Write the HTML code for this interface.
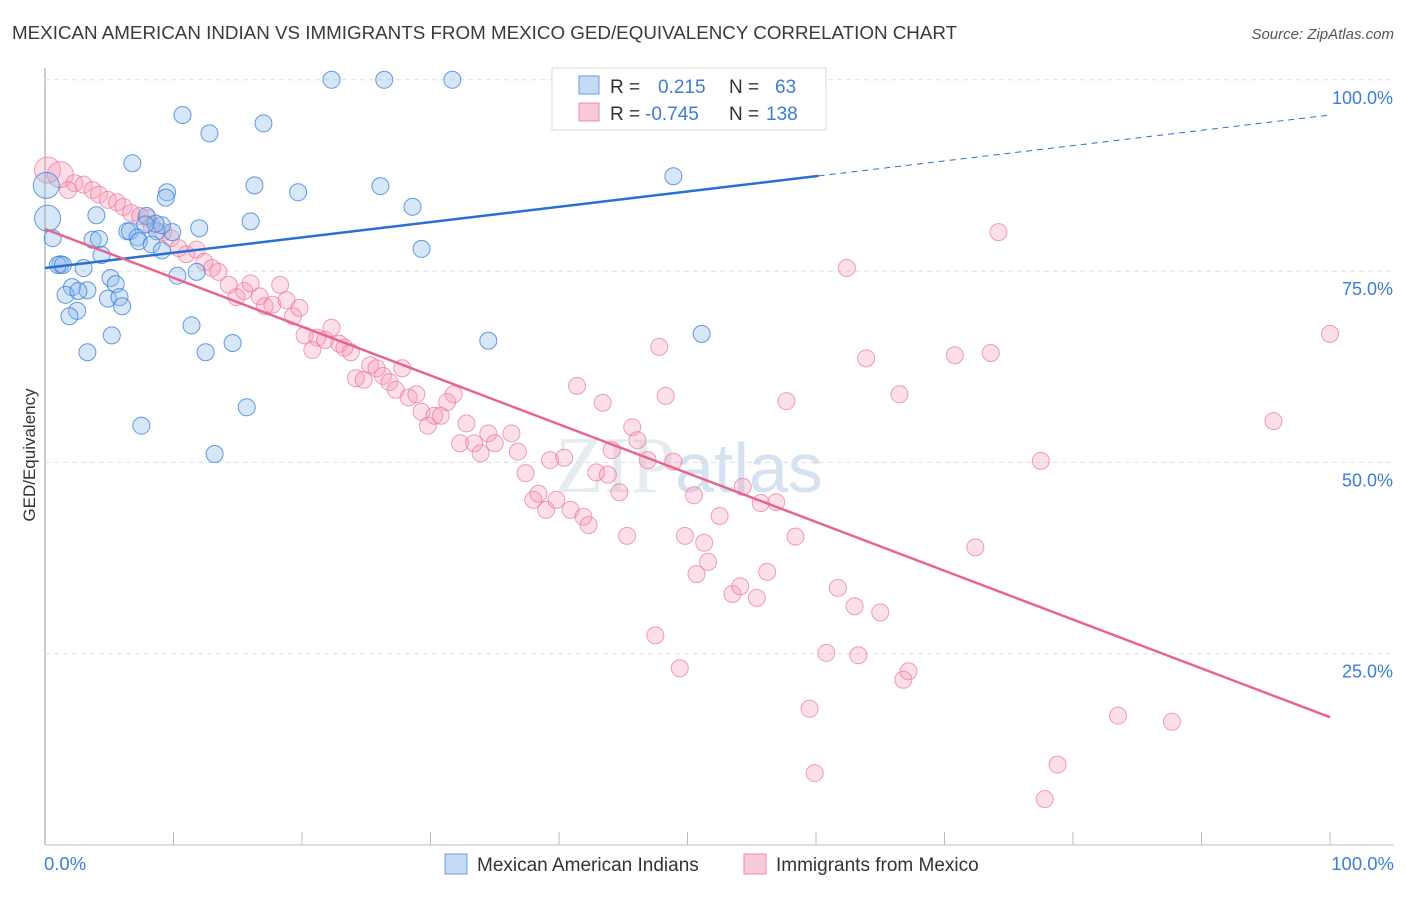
<!DOCTYPE html>
<html><head><meta charset="utf-8"><style>
body{margin:0;background:#fff;font-family:"Liberation Sans",sans-serif;}
</style></head><body>
<svg id="chart" width="1406" height="892" viewBox="0 0 1406 892" xmlns="http://www.w3.org/2000/svg" font-family="Liberation Sans, sans-serif">
<text x="12" y="39" font-size="18.8" fill="#3a3a3a">MEXICAN AMERICAN INDIAN VS IMMIGRANTS FROM MEXICO GED/EQUIVALENCY CORRELATION CHART</text>
<text x="1394" y="39" font-size="15" font-style="italic" fill="#555" text-anchor="end">Source: ZipAtlas.com</text>
<text x="35" y="455" font-size="17" fill="#333" text-anchor="middle" transform="rotate(-90 35 455)">GED/Equivalency</text>
<text x="555" y="492" font-size="80" fill="#e6ebf1" font-family="Liberation Serif, serif">ZIP<tspan fill="#d5e2f2" font-family="Liberation Sans, sans-serif" font-size="70">atlas</tspan></text>
<g id="grid"></g><g id="pinkpts"></g><g id="bluepts"></g><g id="lines"></g>
<g>
<rect x="552" y="68" width="274" height="62" fill="#fff" stroke="#d8d8d8"/>
<rect x="579" y="76" width="20" height="18" fill="#c5dbf5" stroke="#6a9ee0"/>
<rect x="579" y="103" width="20" height="18" fill="#f9c9d7" stroke="#ea8fab"/>
<text x="610" y="93" font-size="19" fill="#333">R = <tspan fill="#3b7dd8" x="658">0.215</tspan><tspan fill="#333" x="729">N =</tspan><tspan fill="#3b7dd8" x="775">63</tspan></text>
<text x="610" y="120" font-size="19" fill="#333">R = <tspan fill="#3b7dd8" x="645">-0.745</tspan><tspan fill="#333" x="729">N =</tspan><tspan fill="#3b7dd8" x="766">138</tspan></text>
</g>
<g>
<rect x="445" y="854" width="22" height="20" fill="#c5dbf5" stroke="#6a9ee0"/>
<text x="477" y="871" font-size="19" fill="#333">Mexican American Indians</text>
<rect x="744" y="854" width="22" height="20" fill="#f9c9d7" stroke="#ea8fab"/>
<text x="776" y="871" font-size="19" fill="#333">Immigrants from Mexico</text>
</g>
<text x="44" y="870" font-size="18.5" fill="#3b7dd8">0.0%</text>
<text x="1394" y="870" font-size="18.5" fill="#3b7dd8" text-anchor="end">100.0%</text>
</svg>
<script>
const yTicks=[100,75,50,25];
const yTickLabels=["100.0%","75.0%","50.0%","25.0%"];
const blueX=[22.3,26.4,31.7,10.7,17.0,12.8,6.8,48.9,16.3,26.1,9.5,19.7,9.4,28.6,0.1,0.2,4.0,7.9,16.0,12.0,6.4,6.6,8.7,9.9,0.6,3.7,4.2,7.2,7.3,8.3,29.3,9.1,4.4,1.2,1.0,1.4,3.0,5.1,10.3,11.8,5.5,2.1,3.3,1.6,2.6,4.9,5.8,6.0,2.5,1.9,11.4,5.2,34.5,14.6,12.5,3.3,51.1,15.7,7.5,13.2,9.1,8.6,7.8];
const blueY=[100,100,100,95.4,94.3,93.0,89.1,87.4,86.2,86.1,85.3,85.3,84.6,83.4,86.2,81.9,82.3,82.2,81.5,80.6,80.2,80.2,80.2,80.1,79.3,79.1,79.2,79.4,78.9,78.5,77.9,77.7,77.1,75.9,75.8,75.8,75.4,74.1,74.4,74.9,73.3,72.9,72.5,71.9,72.4,71.4,71.6,70.4,69.8,69.1,67.9,66.6,65.9,65.6,64.4,64.4,66.8,57.2,54.8,51.1,81.0,81.2,81.1];
const pinkX=[0.2,1.2,2.3,1.8,3.0,3.7,4.2,4.9,5.6,6.1,6.7,7.4,8.0,8.3,9.2,9.8,10.4,11.0,11.8,12.4,13.0,13.5,14.3,14.9,15.5,16.0,16.7,17.1,17.7,18.3,18.8,19.3,19.8,20.2,20.8,21.2,21.8,22.3,22.9,23.3,23.8,24.2,24.8,25.3,25.8,26.3,26.8,27.3,27.8,28.3,28.9,29.3,29.8,30.3,30.8,31.3,31.8,32.3,32.8,33.4,33.9,34.5,35.0,36.3,36.8,37.4,38.0,38.4,39.0,39.3,39.8,40.4,40.9,41.4,41.9,42.3,42.9,43.4,43.8,44.1,44.7,45.3,45.7,46.1,46.9,47.5,47.8,48.3,48.9,49.4,49.8,50.5,50.7,51.3,51.6,52.5,53.5,54.1,54.3,55.4,55.7,56.2,56.9,57.7,58.4,59.5,59.9,60.8,61.7,62.4,63.0,63.3,63.9,65.0,66.5,66.8,67.2,70.8,72.4,73.6,74.2,77.5,77.8,78.8,83.5,87.7,95.6,100,56.9];
const pinkY=[88.2,87.6,86.5,85.6,86.3,85.6,85.0,84.3,84.0,83.4,82.6,82.2,81.9,81.0,80.1,79.3,78.0,77.2,77.8,76.2,75.4,74.9,73.2,71.6,72.4,73.4,71.7,70.4,70.6,73.2,71.2,69.1,70.2,66.6,64.7,66.3,66.0,67.6,65.5,65.0,64.4,61.0,60.8,62.7,62.3,61.3,60.5,59.5,62.3,58.5,58.9,56.6,54.8,56.1,56.1,57.9,58.9,52.5,55.1,52.5,51.2,53.8,52.5,53.8,51.4,48.6,45.1,45.9,43.8,50.3,45.1,50.6,43.8,60.0,42.9,41.8,48.7,57.8,48.4,51.6,46.1,40.4,54.6,52.9,50.3,27.4,65.1,58.7,50.1,23.1,40.4,45.7,35.4,39.5,37.0,43.0,32.8,33.8,46.8,32.3,44.7,35.7,44.8,58.0,40.3,17.8,9.4,25.1,33.6,75.4,31.2,24.8,63.6,30.4,58.9,21.6,22.7,64.0,38.9,64.3,80.1,50.2,6.0,10.5,16.9,16.1,55.4,66.8,99.8];
const blueTrend=[75.4,95.4]; const blueSolidEnd=60.2;
const pinkTrend=[80.5,16.7];
const NS="http://www.w3.org/2000/svg";
function X(v){return 45+v*12.85;}
function Y(v){return 845-v*7.652;}
function mk(tag,attrs,parent){const e=document.createElementNS(NS,tag);for(const k in attrs)e.setAttribute(k,attrs[k]);parent.appendChild(e);return e;}
const grid=document.getElementById('grid');
const ax=mk('line',{x1:45,y1:68,x2:45,y2:845,stroke:'#999','stroke-width':1},grid);


const bx=mk('line',{x1:45,y1:845,x2:1394,y2:845,stroke:'#bbb','stroke-width':1},grid);


for(let i=1;i<=10;i++){const t=mk('line',{x1:45+i*128.5,y1:832,x2:45+i*128.5,y2:845,stroke:'#bbb'},grid);

}
yTicks.forEach((v,i)=>{const g=mk('line',{x1:45,y1:Y(v),x2:1394,y2:Y(v),stroke:'#ddd','stroke-dasharray':'5,4'},grid);


const t=mk('text',{x:1393,y:Y(v)+24,'font-size':18,fill:'#3b7dd8','text-anchor':'end'},grid);t.textContent=yTickLabels[i];

});
const pg=document.getElementById('pinkpts');
pinkX.forEach((x,i)=>{const r=(x<1.5&&pinkY[i]>87)?13:8.5;const c=mk('circle',{cx:X(x),cy:Y(pinkY[i]),r:r,fill:'rgba(244,150,180,0.3)',stroke:'rgba(234,120,155,0.7)','stroke-width':1},pg);

});
const bg=document.getElementById('bluepts');
blueX.forEach((x,i)=>{const r=(x<0.3)?13:8.5;const c=mk('circle',{cx:X(x),cy:Y(blueY[i]),r:r,fill:'rgba(140,185,235,0.35)',stroke:'rgba(60,130,220,0.8)','stroke-width':1},bg);

});
const lg=document.getElementById('lines');
const bm=blueTrend[0]+(blueTrend[1]-blueTrend[0])*blueSolidEnd/100;
const l1=mk('line',{x1:X(0),y1:Y(blueTrend[0]),x2:X(blueSolidEnd),y2:Y(bm),stroke:'#2a6fd6','stroke-width':2.5},lg);


const l2=mk('line',{x1:X(blueSolidEnd),y1:Y(bm),x2:X(100),y2:Y(blueTrend[1]),stroke:'#2a6fd6','stroke-width':1,'stroke-dasharray':'6,5'},lg);


const l3=mk('line',{x1:X(0),y1:Y(pinkTrend[0]),x2:X(100),y2:Y(pinkTrend[1]),stroke:'#e8648e','stroke-width':2.5},lg);


</script>
</body></html>
